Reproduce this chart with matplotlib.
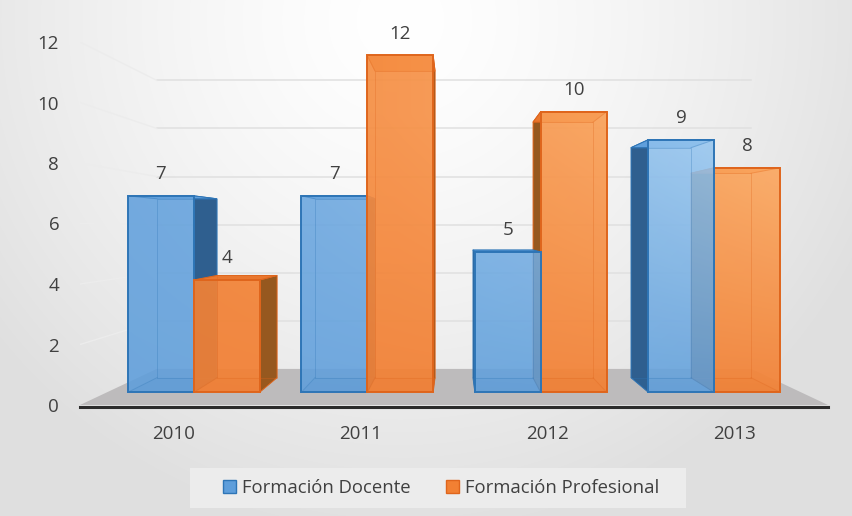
import numpy as np
import matplotlib
matplotlib.use("Agg")
import matplotlib.pyplot as plt
from matplotlib.patches import Polygon, Rectangle

YEARS = ["2010", "2011", "2012", "2013"]
SERIES_NAMES = ["Formación Docente", "Formación Profesional"]
DOCENTE = [7, 7, 5, 9]
PROFESIONAL = [4, 12, 10, 8]
Y_TICKS = [0, 2, 4, 6, 8, 10, 12]

plt.rcParams["font.family"] = ["Open Sans", "DejaVu Sans"]
W, H = 852, 516
TEXT = "#404040"

fig = plt.figure(figsize=(W / 100, H / 100), dpi=100)

# page background
bg = fig.add_axes([0, 0, 1, 1], zorder=-2)
yy, xx = np.mgrid[0:H, 0:W]
r = np.sqrt(((xx - 400) / 520.0) ** 2 + ((yy - 20) / 520.0) ** 2)
page = np.clip(1.0 - 0.125 * np.clip(r, 0, 1.0) ** 1.4, 0, 1)
bg.imshow(np.dstack([page, page, page]), aspect="auto")
bg.axis("off")
fig.add_artist(Rectangle((190 / W, 1 - 508 / H), 496 / W, 40 / H, transform=fig.transFigure,
                         fc="#ececec", ec="none", zorder=-1))

ax = fig.add_axes([80 / W, 1 - 405 / H, 748 / W, 363 / H])
ax.patch.set_alpha(0)
ax.set_xlim(-0.5, 3.5)
ax.set_ylim(0, 12)

VX, VY = 1.5, 5.82
S_FRONT, S_BACK, S_WALL = 0.928, 0.845, 0.795
BAR_W = 0.380


def proj(c, v, s):
    return (VX + (c - VX) * s, VY + (v - VY) * s)


# walls and floor
ax.add_patch(Polygon([proj(-0.5, 0, 1), proj(3.5, 0, 1), proj(3.5, 0, S_WALL), proj(-0.5, 0, S_WALL)],
                     fc="#bdbbbc", ec="none", zorder=1))
for v in Y_TICKS[1:]:
    a, b, c = proj(-0.5, v, 1), proj(-0.5, v, S_WALL), proj(3.5, v, S_WALL)
    ax.plot([b[0], c[0]], [b[1], c[1]], color="#e0e0e0", lw=1.1, zorder=1)
    ax.plot([a[0], b[0]], [a[1], b[1]], color="#ececec", lw=1.0, zorder=1)

STYLES = {
    0: dict(low=(0.37, 0.62, 0.86), high=(0.68, 0.84, 0.97), edge="#2E75B6", dark="#2f5f8f", top="#5f9fdc", alpha=0.88),
    1: dict(low=(0.95, 0.50, 0.20), high=(1.00, 0.72, 0.45), edge="#DF651C", dark="#96581f", top="#e9772e", alpha=0.93),
}

gy, gx = np.mgrid[0:1:120j, 0:1:120j]  # gy: 0 at bottom, gx: 0 at left
shade = np.clip(gy * 1.25, 0, 1) * (0.05 + 0.95 * gx ** 1.5)


def gradient_face(points, series, zorder):
    st = STYLES[series]
    img = np.zeros(gx.shape + (3,))
    for i in range(3):
        img[..., i] = st["low"][i] + (st["high"][i] - st["low"][i]) * shade
    patch = Polygon(points, fc="none", ec="none", transform=ax.transData)
    ax.add_patch(patch)
    im = ax.imshow(img, origin="lower", extent=(-0.5, 3.5, 0, 12), aspect="auto",
                   alpha=st["alpha"], zorder=zorder, interpolation="bilinear")
    im.set_clip_path(patch)


def draw_bar(cat, series, value, z):
    x0 = cat - BAR_W if series == 0 else cat
    x1 = cat if series == 0 else cat + BAR_W
    st = STYLES[series]
    f = [proj(x0, 0, S_FRONT), proj(x1, 0, S_FRONT), proj(x1, value, S_FRONT), proj(x0, value, S_FRONT)]
    b = [proj(x0, 0, S_BACK), proj(x1, 0, S_BACK), proj(x1, value, S_BACK), proj(x0, value, S_BACK)]
    # outer visible side
    if x0 + BAR_W / 2 < VX:
        side = [f[1], b[1], b[2], f[2]]
    else:
        side = [f[0], b[0], b[3], f[3]]
    ax.add_patch(Polygon(side, fc=st["dark"], ec=st["edge"], lw=0.6, zorder=z))
    ax.add_patch(Polygon([f[3], f[2], b[2], b[3]], fc=st["top"], ec=st["edge"], lw=0.7, zorder=z + 0.1))
    gradient_face(f, series, z + 0.2)
    # bar floor shade
    ax.add_patch(Polygon([f[0], f[1], b[1], b[0]], fc=st["edge"], alpha=0.06, ec="none", zorder=z + 0.3))
    # interior edges of the box
    for i in range(4):
        ax.plot([f[i][0], b[i][0]], [f[i][1], b[i][1]], color=st["edge"], lw=0.7, alpha=0.3, zorder=z + 0.3)
    bx = [p[0] for p in b] + [b[0][0]]
    by = [p[1] for p in b] + [b[0][1]]
    ax.plot(bx, by, color=st["edge"], lw=0.7, alpha=0.3, zorder=z + 0.3)
    ax.add_patch(Polygon(f, fc="none", ec=st["edge"], lw=1.4, zorder=z + 0.4))
    top_mid = proj((x0 + x1) / 2, value, S_FRONT)
    ax.annotate(str(value), top_mid, xytext=(0, 15.8), textcoords="offset points", ha="center", va="center",
                fontsize=13.5, color=TEXT, zorder=30, annotation_clip=False)


z = 2
for c in range(len(YEARS)):
    order = (0, 1) if c < VX else (1, 0)
    for s in order:
        draw_bar(c, s, (DOCENTE, PROFESIONAL)[s][c], z)
        z += 1

ax.set_xlim(-0.5, 3.5)
ax.set_ylim(0, 12)
ax.set_xticks(range(len(YEARS)), YEARS)
ax.set_yticks(Y_TICKS)
ax.tick_params(axis="x", length=0, pad=13, labelsize=13.5, labelcolor=TEXT)
ax.tick_params(axis="y", length=0, pad=15, labelsize=13.5, labelcolor=TEXT)
for name in ("top", "left", "right"):
    ax.spines[name].set_visible(False)
ax.spines["bottom"].set_color("#2b2b2b")
ax.spines["bottom"].set_linewidth(2.2)
ax.spines["bottom"].set_position(("outward", 1.5))
ax.spines["bottom"].set_zorder(20)

handles = [Rectangle((0, 0), 1, 1, fc=STYLES[i]["low"], ec=STYLES[i]["edge"], lw=1) for i in (0, 1)]
leg = fig.legend(handles, SERIES_NAMES, loc="center", bbox_to_anchor=(441 / W, 1 - 488 / H),
                 ncol=2, frameon=False, fontsize=13.35, labelcolor=TEXT,
                 handlelength=0.72, handleheight=0.72, handletextpad=0.3, columnspacing=1.9,
                 borderpad=0, borderaxespad=0)

fig.savefig("out.png", dpi=100)
